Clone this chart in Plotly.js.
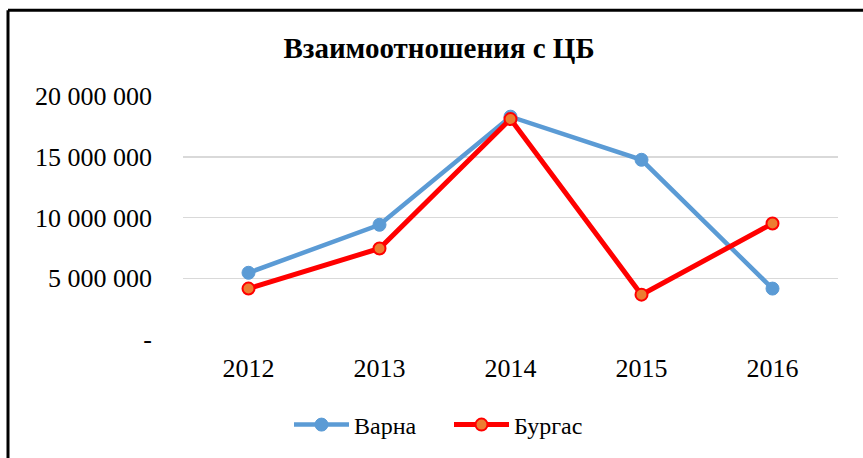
<!DOCTYPE html>
<html>
<head>
<meta charset="utf-8">
<script src="https://cdn.plot.ly/plotly-3.0.1.min.js"></script>
<style>html,body{margin:0;padding:0;background:#fff;}#chart{width:863px;height:458px;}</style>
</head>
<body>
<div id="chart"></div>
<script>
const years = ["2012", "2013", "2014", "2015", "2016"];
const varna = [5450000, 9400000, 18300000, 14750000, 4150000];
const burgas = [4150000, 7450000, 18100000, 3650000, 9500000];
const yTickVals = [0, 5000000, 10000000, 15000000, 20000000];
const yTickText = ["-", "5 000 000", "10 000 000", "15 000 000", "20 000 000"];

const L = 183, R = 25, T = 96, B = 118;
const W = 863, H = 458;
const pw = W - L - R, ph = H - T - B;
function px(x){ return (x - L) / pw; }
function py(y){ return (H - B - y) / ph; }

const serif = "Liberation Serif, Times New Roman, serif";
const data = [
  {x: years, y: varna, name: "Варна", type: "scatter", mode: "lines+markers",
   line: {color: "#5B9BD5", width: 4.5},
   marker: {color: "#5B9BD5", size: 13, line: {color: "#5B9BD5", width: 1}}},
  {x: years, y: burgas, name: "Бургас", type: "scatter", mode: "lines+markers",
   line: {color: "#FF0000", width: 5},
   marker: {color: "#ED7D31", size: 12, line: {color: "#FF0000", width: 2}}}
];

const layout = {
  width: W, height: H,
  margin: {l: L, r: R, t: T, b: B},
  paper_bgcolor: "#fff", plot_bgcolor: "#fff",
  title: {text: "<b>Взаимоотношения с ЦБ</b>", x: 439 / W, xanchor: "center", y: 1 - 48/H, yanchor: "middle",
          font: {family: serif, size: 29, color: "#000"}},
  font: {family: serif, color: "#000", size: 24},
  xaxis: {type: "category", showgrid: false, zeroline: false, showline: false, ticks: "",
          tickfont: {family: serif, size: 26, color: "#000"}, ticklabelstandoff: 11, range: [-0.5, 4.5]},
  yaxis: {range: [0, 20000000], tickvals: yTickVals, ticktext: yTickText, showgrid: true,
          gridcolor: "#D9D9D9", gridwidth: 1.5, zeroline: false, showline: false, ticks: "",
          tickfont: {family: serif, size: 26, color: "#000"}, ticklabelstandoff: 30},
  showlegend: true,
  legend: {orientation: "h", x: px(289), xanchor: "left", y: py(425), yanchor: "middle",
           font: {family: serif, size: 24, color: "#000"}, entrywidth: 90, entrywidthmode: "pixels",
           itemwidth: 55, traceorder: "normal"},
  shapes: [
    {type: "line", xref: "paper", yref: "paper", x0: px(8), x1: px(870), y0: py(10), y1: py(10),
     line: {color: "#000", width: 3}},
    {type: "line", xref: "paper", yref: "paper", x0: px(8), x1: px(8), y0: py(10), y1: py(470),
     line: {color: "#000", width: 3}}
  ]
};

Plotly.newPlot("chart", data, layout, {displayModeBar: false, staticPlot: true});
</script>
</body>
</html>
